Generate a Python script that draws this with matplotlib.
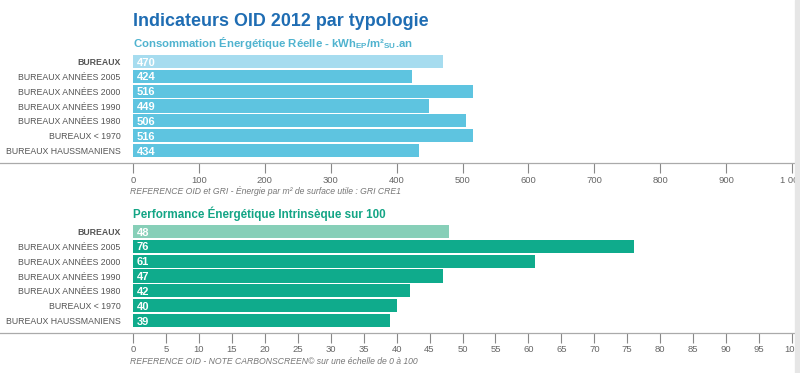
import matplotlib.pyplot as plt
from matplotlib.patches import Rectangle
from matplotlib.lines import Line2D

plt.rcParams['font.family'] = ['Liberation Sans', 'DejaVu Sans']

categories = ["BUREAUX", "BUREAUX ANNÉES 2005", "BUREAUX ANNÉES 2000",
              "BUREAUX ANNÉES 1990", "BUREAUX ANNÉES 1980", "BUREAUX < 1970",
              "BUREAUX HAUSSMANIENS"]
conso = [470, 424, 516, 449, 506, 516, 434]
perf = [48, 76, 61, 47, 42, 40, 39]
conso_ticks = [0, 100, 200, 300, 400, 500, 600, 700, 800, 900, 1000]
conso_ticklabels = ["0", "100", "200", "300", "400", "500", "600", "700", "800", "900", "1 000"]
perf_ticks = list(range(0, 101, 5))

W, H = 800, 373
fig = plt.figure(figsize=(8, 3.73), dpi=100)
fig.patch.set_facecolor("white")

gray = "#666666"


def fy(py):
    return 1 - py / H


def panel(top_px, spine_px, values, xmax, ticks, ticklabels, main_col, first_col, note):
    ax = fig.add_axes([133 / W, fy(spine_px), (792 - 133) / W, (spine_px - top_px) / H])
    n = len(values)
    rows = (spine_px - top_px) / 14.86
    colors = [first_col] + [main_col] * (n - 1)
    ax.barh(range(n), values, height=0.88, color=colors, left=0)
    ax.set_ylim(rows - 0.5, -0.5)
    ax.set_xlim(0, xmax)
    for i, v in enumerate(values):
        ax.text(xmax * 0.006, i + 0.08, str(v), color="white", fontweight="bold",
                fontsize=8, va="center", ha="left")
    ax.set_yticks(range(n))
    ax.set_yticklabels(categories)
    for i, lab in enumerate(ax.get_yticklabels()):
        lab.set_color("#555555")
        lab.set_fontsize(6.3)
        if i == 0:
            lab.set_fontweight("bold")
    ax.tick_params(axis="y", length=0, pad=9)
    ax.set_xticks(ticks)
    ax.set_xticklabels(ticklabels)
    ax.tick_params(axis="x", direction="out", length=7, width=0.8, color="#888888",
                   labelcolor=gray, labelsize=6.8, pad=2)
    for s in ["top", "right", "left", "bottom"]:
        ax.spines[s].set_visible(False)
    fig.add_artist(Line2D([0, 795 / W], [fy(spine_px), fy(spine_px)],
                          color="#aaaaaa", lw=0.9))
    fig.text(130 / W, fy(spine_px + 28), note, fontsize=6.2, style="italic",
             color="#777777", va="center")
    return ax


fig.text(133 / W, fy(22), "Indicateurs OID 2012 par typologie", fontsize=12.9,
         fontweight="bold", color="#1f6db3", va="center")
fig.text(133 / W, fy(43), r"Consommation Énergétique Réelle - kWh$_{\mathregular{EP}}$/m²$_{\mathregular{SU}}$.an",
         fontsize=8.2, fontweight="bold", color="#4fb3cf", va="center")
fig.text(133 / W, fy(214), "Performance Énergétique Intrinsèque sur 100",
         fontsize=8.4, fontweight="bold", color="#13a585", va="center")

panel(54, 163, conso, 1000, conso_ticks, conso_ticklabels, "#5ec4e0", "#a6dcef",
      "REFERENCE OID et GRI - Énergie par m² de surface utile : GRI CRE1")
panel(224, 333, perf, 100, perf_ticks, [str(t) for t in perf_ticks], "#0fab8c", "#87cfb8",
      "REFERENCE OID - NOTE CARBONSCREEN© sur une échelle de 0 à 100")

fig.add_artist(Rectangle((795 / W, 0), 5 / W, 1, transform=fig.transFigure,
                         color="#e6e6e6", zorder=10))

fig.savefig("out.png", dpi=100)
